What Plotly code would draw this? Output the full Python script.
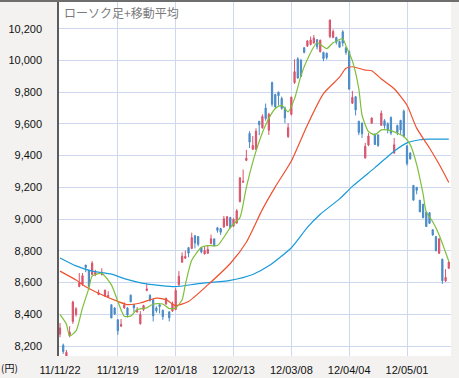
import plotly.graph_objects as go

# ---- data ----
dates = [
    "2011-11-22", "2011-11-24", "2011-11-25", "2011-11-28", "2011-11-29", "2011-11-30",
    "2011-12-01", "2011-12-02", "2011-12-05", "2011-12-06", "2011-12-07", "2011-12-08",
    "2011-12-09", "2011-12-12", "2011-12-13", "2011-12-14", "2011-12-15", "2011-12-16",
    "2011-12-19", "2011-12-20", "2011-12-21", "2011-12-22", "2011-12-26", "2011-12-27",
    "2011-12-28", "2011-12-29", "2011-12-30",
    "2012-01-04", "2012-01-05", "2012-01-06", "2012-01-10", "2012-01-11", "2012-01-12",
    "2012-01-13", "2012-01-16", "2012-01-17", "2012-01-18", "2012-01-19", "2012-01-20",
    "2012-01-23", "2012-01-24", "2012-01-25", "2012-01-26", "2012-01-27", "2012-01-30",
    "2012-01-31",
    "2012-02-01", "2012-02-02", "2012-02-03", "2012-02-06", "2012-02-07", "2012-02-08",
    "2012-02-09", "2012-02-10", "2012-02-13", "2012-02-14", "2012-02-15", "2012-02-16",
    "2012-02-17", "2012-02-20", "2012-02-21", "2012-02-22", "2012-02-23", "2012-02-24",
    "2012-02-27", "2012-02-28", "2012-02-29",
    "2012-03-01", "2012-03-02", "2012-03-05", "2012-03-06", "2012-03-07", "2012-03-08",
    "2012-03-09", "2012-03-12", "2012-03-13", "2012-03-14", "2012-03-15", "2012-03-16",
    "2012-03-19", "2012-03-21", "2012-03-22", "2012-03-23", "2012-03-26", "2012-03-27",
    "2012-03-28", "2012-03-29", "2012-03-30",
    "2012-04-02", "2012-04-03", "2012-04-04", "2012-04-05", "2012-04-06", "2012-04-09",
    "2012-04-10", "2012-04-11", "2012-04-12", "2012-04-13", "2012-04-16", "2012-04-17",
    "2012-04-18", "2012-04-19", "2012-04-20", "2012-04-23", "2012-04-24", "2012-04-25",
    "2012-04-26", "2012-04-27",
    "2012-05-01", "2012-05-02", "2012-05-07", "2012-05-08", "2012-05-09", "2012-05-10",
    "2012-05-11", "2012-05-14", "2012-05-15", "2012-05-16", "2012-05-17", "2012-05-18",
    "2012-05-21", "2012-05-22",
]

open_ = [
    8275, 8205, 8135, 8265, 8355, 8400, 8575, 8590, 8710, 8675, 8650, 8650,
    8525, 8650, 8515, 8510, 8460, 8440, 8365, 8325, 8440, 8440, 8520, 8460,
    8415, 8340, 8430,
    8550, 8520, 8490, 8440, 8460, 8425, 8465, 8415, 8420, 8430, 8585, 8728,
    8753, 8820, 8815, 8895, 8890, 8820, 8780,
    8785, 8846, 8875, 8945, 8940, 8950, 8960, 9010, 8955, 8975, 9110, 9232,
    9370, 9540, 9440, 9440, 9615, 9575, 9700, 9560, 9860,
    9785, 9800, 9760, 9700, 9520, 9660, 9860, 10010, 10000, 10080, 10090, 10100,
    10110, 10130, 10055, 10050, 10045, 10150, 10145, 10144, 10119,
    10180, 10080, 10057, 9730, 9771, 9616, 9604, 9386, 9467, 9604, 9535, 9530,
    9591, 9620, 9600, 9640, 9417, 9590, 9622, 9680,
    9460, 9417, 9212, 9200, 9119, 9094, 9044, 9040, 8933, 8890, 8784, 8747,
    8610, 8690,
]
high = [
    8345, 8215, 8175, 8325, 8485, 8445, 8660, 8660, 8712, 8680, 8735, 8680,
    8555, 8690, 8555, 8545, 8462, 8445, 8370, 8370, 8475, 8445, 8525, 8465,
    8445, 8420, 8460,
    8590, 8525, 8495, 8450, 8470, 8430, 8505, 8420, 8480, 8565, 8672, 8790,
    8802, 8822, 8914, 8898, 8892, 8822, 8828,
    8830, 8902, 8878, 8951, 8945, 9020, 9018, 9014, 9005, 9063, 9262, 9312,
    9436, 9554, 9523, 9572, 9620, 9660, 9728, 9670, 9866,
    9790, 9803, 9771, 9709, 9604, 9771, 10007, 10020, 10010, 10082, 10125, 10150,
    10160, 10135, 10131, 10055, 10050, 10255, 10195, 10150, 10125,
    10190, 10085, 10060, 9808, 9775, 9620, 9610, 9480, 9542, 9640, 9540, 9535,
    9684, 9630, 9610, 9647, 9511, 9595, 9625, 9690,
    9467, 9420, 9215, 9202, 9120, 9095, 9046, 9044, 8935, 8892, 8877, 8750,
    8684, 8734,
]
low = [
    8255, 8150, 8110, 8255, 8340, 8385, 8570, 8580, 8665, 8570, 8645, 8640,
    8520, 8645, 8510, 8505, 8375, 8395, 8270, 8320, 8435, 8380, 8475, 8415,
    8410, 8335, 8420,
    8545, 8480, 8355, 8410, 8405, 8365, 8460, 8355, 8415, 8425, 8580, 8725,
    8750, 8760, 8810, 8815, 8828, 8784, 8778,
    8780, 8840, 8830, 8914, 8900, 8945, 8955, 8940, 8950, 8970, 9105, 9230,
    9365, 9448, 9436, 9436, 9529, 9570, 9620, 9530, 9709,
    9697, 9716, 9690, 9604, 9511, 9653, 9852, 9885, 9895, 10045, 10085, 10095,
    10105, 10069, 10050, 9995, 10005, 10140, 10140, 10100, 10080,
    10088, 10035, 9815, 9725, 9653, 9529, 9511, 9380, 9460, 9600, 9467, 9455,
    9588, 9570, 9540, 9529, 9410, 9529, 9529, 9515,
    9337, 9374, 9119, 9156, 9044, 9005, 8950, 8970, 8895, 8796, 8780, 8591,
    8605, 8685,
]
close = [
    8314, 8165, 8160, 8287, 8477, 8434, 8597, 8643, 8695, 8575, 8722, 8664,
    8536, 8653, 8552, 8519, 8377, 8401, 8296, 8336, 8459, 8395, 8479, 8440,
    8423, 8398, 8455,
    8560, 8488, 8390, 8422, 8448, 8385, 8500, 8378, 8466, 8550, 8639, 8766,
    8765, 8785, 8883, 8849, 8841, 8793, 8802,
    8809, 8876, 8831, 8929, 8917, 9002, 9015, 8947, 8999, 9052, 9260, 9238,
    9384, 9485, 9463, 9554, 9595, 9647, 9633, 9660, 9723,
    9707, 9777, 9698, 9637, 9576, 9768, 9929, 9889, 9899, 10050, 10123, 10129,
    10141, 10086, 10127, 10011, 10018, 10255, 10182, 10114, 10083,
    10109, 10050, 9819, 9767, 9688, 9546, 9538, 9458, 9524, 9637, 9470, 9464,
    9667, 9588, 9561, 9542, 9468, 9545, 9561, 9520,
    9350, 9380, 9119, 9181, 9045, 9009, 8953, 8973, 8900, 8801, 8876, 8611,
    8633, 8729,
]

# moving averages
ma_short_dates = [
    "2011-11-22", "2011-11-25", "2011-11-28", "2011-11-30", "2011-12-02", "2011-12-06",
    "2011-12-07", "2011-12-12", "2011-12-15", "2011-12-19", "2011-12-21", "2011-12-26",
    "2011-12-28", "2012-01-04", "2012-01-06", "2012-01-12", "2012-01-16", "2012-01-18",
    "2012-01-20", "2012-01-23", "2012-01-25", "2012-01-30", "2012-02-01", "2012-02-06",
    "2012-02-09", "2012-02-10", "2012-02-13", "2012-02-15", "2012-02-17", "2012-02-22",
    "2012-02-27", "2012-03-01", "2012-03-05", "2012-03-07", "2012-03-09", "2012-03-13",
    "2012-03-15", "2012-03-21", "2012-03-26", "2012-03-28", "2012-04-02", "2012-04-03",
    "2012-04-05", "2012-04-09", "2012-04-10", "2012-04-12", "2012-04-16", "2012-04-18",
    "2012-04-20", "2012-04-25", "2012-04-27", "2012-05-02", "2012-05-08", "2012-05-10",
    "2012-05-11", "2012-05-15", "2012-05-17", "2012-05-22",
]
ma_short = [
    8399, 8337, 8264, 8295, 8440, 8565,
    8640, 8658, 8585, 8481, 8388, 8388,
    8430, 8440, 8465, 8465, 8436, 8440,
    8492, 8585, 8740, 8823, 8833, 8833,
    8916, 8947, 8968, 9009, 9200, 9428,
    9593, 9697, 9717, 9676, 9759, 9904,
    10007, 10111, 10074, 10111, 10136, 10091,
    9997, 9821, 9656, 9552, 9531, 9562,
    9562, 9541, 9520, 9469, 9345, 9158,
    9044, 8983, 8900, 8734,
]

ma_mid_dates = [
    "2011-11-22", "2011-11-30", "2011-12-05", "2011-12-09", "2011-12-19", "2011-12-22",
    "2011-12-29", "2012-01-10", "2012-01-13", "2012-01-18", "2012-01-24", "2012-02-01",
    "2012-02-10", "2012-02-17", "2012-02-24", "2012-03-01", "2012-03-08", "2012-03-15",
    "2012-03-23", "2012-03-30", "2012-04-03", "2012-04-05", "2012-04-11", "2012-04-13",
    "2012-04-18", "2012-04-24", "2012-05-01", "2012-05-08", "2012-05-14", "2012-05-17",
    "2012-05-22",
]
ma_mid = [
    8672, 8616, 8574, 8533, 8481, 8461,
    8471, 8502, 8492, 8455, 8481, 8585,
    8720, 8854, 9061, 9203, 9366, 9593,
    9790, 9894, 9950, 9960, 9939, 9935,
    9883, 9821, 9717, 9573, 9448, 9345,
    9231,
]

ma_long_dates = [
    "2011-11-22", "2011-11-30", "2011-12-07", "2011-12-15", "2011-12-21", "2012-01-04",
    "2012-01-18", "2012-01-27", "2012-02-10", "2012-02-21", "2012-02-28", "2012-03-08",
    "2012-03-15", "2012-03-22", "2012-03-30", "2012-04-05", "2012-04-16", "2012-04-24",
    "2012-05-01", "2012-05-09", "2012-05-14", "2012-05-22",
]
ma_long = [
    8755, 8705, 8672, 8653, 8625, 8591,
    8574, 8593, 8614, 8651, 8705, 8819,
    8947, 9030, 9127, 9206, 9324, 9428,
    9480, 9500, 9504, 9504,
]

tick_dates = ["2011-11-22", "2011-12-19", "2012-01-18", "2012-02-13",
              "2012-03-08", "2012-04-04", "2012-05-01"]
tick_labels = ["11/11/22", "11/12/19", "12/01/18", "12/02/13",
               "12/03/08", "12/04/04", "12/05/01"]

title_text = "ローソク足+移動平均"
unit_text = "(円)"

# ---- styling ----
UP = "#d9546a"
DOWN = "#4a8bc6"
GREEN = "#7dbf3a"
RED = "#f0502e"
BLUE = "#1a9ad9"
GRID = "#cdd8ee"
BG = "#f3f2f0"

fig = go.Figure()
fig.add_trace(go.Candlestick(
    x=dates, open=open_, high=high, low=low, close=close,
    increasing=dict(line=dict(color=UP, width=1), fillcolor=UP),
    decreasing=dict(line=dict(color=DOWN, width=1), fillcolor=DOWN),
    whiskerwidth=0, showlegend=False, hoverinfo="skip",
))
fig.add_trace(go.Scatter(x=ma_long_dates, y=ma_long, mode="lines",
                         line=dict(color=BLUE, width=1.2, shape="spline", smoothing=0.6),
                         showlegend=False, hoverinfo="skip"))
fig.add_trace(go.Scatter(x=ma_mid_dates, y=ma_mid, mode="lines",
                         line=dict(color=RED, width=1.2, shape="spline", smoothing=0.6),
                         showlegend=False, hoverinfo="skip"))
fig.add_trace(go.Scatter(x=ma_short_dates, y=ma_short, mode="lines",
                         line=dict(color=GREEN, width=1.2, shape="spline", smoothing=0.6),
                         showlegend=False, hoverinfo="skip"))

fig.update_layout(
    width=459, height=378,
    margin=dict(l=59, r=8, t=2, b=17, pad=0),
    paper_bgcolor=BG, plot_bgcolor="white",
    boxgap=0.45,
    font=dict(family="Liberation Sans, Arial, sans-serif", size=11, color="#111"),
    xaxis=dict(
        type="category", range=[-0.31, 121.69],
        tickmode="array", tickvals=tick_dates, ticktext=tick_labels,
        showgrid=True, gridcolor=GRID, gridwidth=1,
        rangeslider=dict(visible=False), showline=False, zeroline=False,
        ticks="outside", ticklen=4, tickcolor="rgba(0,0,0,0)",
        tickfont=dict(size=11, color="#111"),
    ),
    yaxis=dict(
        range=[8137, 10368], tick0=8200, dtick=200, tickformat=",d",
        showgrid=True, gridcolor=GRID, gridwidth=1, zeroline=False,
        showline=True, linecolor="#5c5c5c", linewidth=1.5,
        ticks="outside", ticklen=13, tickcolor="rgba(0,0,0,0)",
        tickfont=dict(size=11, color="#111"),
    ),
    annotations=[
        dict(text=title_text, xref="paper", yref="paper", x=0.008, y=0.97,
             xanchor="left", yanchor="middle", showarrow=False,
             font=dict(family="Noto Sans CJK JP", size=12, color="#7a7a7a")),
        dict(text=unit_text, xref="paper", yref="paper", x=-0.152, y=-0.032,
             xanchor="left", yanchor="middle", showarrow=False,
             font=dict(family="Noto Sans CJK JP, Liberation Sans", size=10, color="#111")),
    ],
    shapes=[
        dict(type="line", xref="paper", yref="paper", x0=-0.16, x1=1.03,
             y0=1.0028, y1=1.0028, line=dict(color="#6e6e6e", width=2)),
    ],
)

fig.write_html("out.html",
               config={"displayModeBar": False},
               post_script="document.body.style.margin='0';document.body.style.padding='0';")
